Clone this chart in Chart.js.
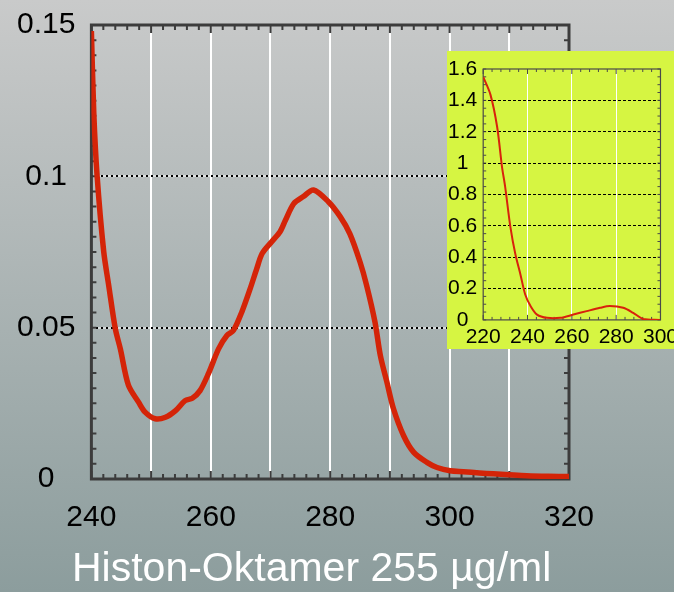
<!DOCTYPE html>
<html>
<head>
<meta charset="utf-8">
<script src="https://cdn.jsdelivr.net/npm/chart.js@4"></script>
<style>
  html, body { margin: 0; padding: 0; }
  body {
    width: 674px; height: 592px; position: relative; overflow: hidden;
    background: linear-gradient(#c9caca, #8c9d9d);
    font-family: 'Liberation Sans', Arial, sans-serif;
  }
  #main { position: absolute; left: 0; top: 0; }
  #insetBox {
    position: absolute; left: 447px; top: 51px; width: 227px; height: 298px;
    background: #d6f542; overflow: hidden;
  }
  #inset { position: absolute; left: -6px; top: 0; }
  #caption {
    position: absolute; left: 72px; top: 544px;
    color: #fff; font-size: 41px; white-space: nowrap;
  }
</style>
</head>
<body>
<canvas id="main" width="674" height="592"></canvas>
<div id="insetBox"><canvas id="inset" width="243" height="304"></canvas></div>
<div id="caption">Histon-Oktamer 255 µg/ml</div>
<script>
// main spectrum (240-320 nm)
const wavelength = [240, 240.4, 240.95, 242.06, 242.9, 244.0, 244.85, 246.2, 247.9, 249.0,
    250.7, 252.4, 254.1, 255.7, 256.9, 258.2, 259.6, 261.3, 262.7, 263.8,
    265.2, 266.6, 267.7, 268.6, 270.2, 271.6, 272.5, 273.9, 275.5, 277.2,
    279.7, 281.7, 283.3, 285.0, 286.1, 287.5, 288.4, 289.5, 290.6, 292.3,
    294.0, 296.2, 297.9, 300.1, 302.3, 305, 307.3, 310, 312.9, 316.5, 320];
const absorbance = [0.148, 0.121, 0.1004, 0.0752, 0.064, 0.0497, 0.043, 0.031, 0.0254, 0.0221,
    0.0199, 0.0204, 0.0226, 0.0259, 0.0267, 0.0292, 0.0348, 0.043, 0.0474, 0.0491,
    0.0552, 0.0629, 0.0695, 0.0745, 0.0784, 0.0817, 0.0855, 0.091, 0.0933, 0.0955,
    0.0916, 0.0866, 0.081, 0.0717, 0.064, 0.0519, 0.0408, 0.032, 0.0232, 0.0143,
    0.0088, 0.0055, 0.0038, 0.0027, 0.0024, 0.0020, 0.0017, 0.0014, 0.0011, 0.0009, 0.0008];

// inset spectrum (220-300 nm)
const insetWavelength = [220, 223.3, 226.3, 228.5, 229.9, 232.3, 234.5, 236.8, 239, 241.3,
    244.3, 248.8, 254.8, 260.7, 266.7, 272.7, 277.2, 283.2, 287.7, 292.2, 299.7];
const insetAbsorbance = [1.55, 1.435, 1.23, 0.975, 0.85, 0.59, 0.42, 0.29, 0.16, 0.09,
    0.034, 0.013, 0.013, 0.034, 0.056, 0.077, 0.088, 0.077, 0.045, 0.006, 0.0];

const mainXTicks = [240, 250, 260, 270, 280, 290, 300, 310, 320];
const mainXLabels = [240, 260, 280, 300, 320];
const mainYTicks = [0, 0.05, 0.1, 0.15];
const insetXTicks = [220, 240, 260, 280, 300];
const insetYTicks = [0, 0.2, 0.4, 0.6, 0.8, 1, 1.2, 1.4, 1.6];

const fmt = v => String(parseFloat(v.toFixed(3)));
const near = (a, b) => Math.abs(a - b) < 1e-6;
const inner = (v, s) => !near(v, s.min) && !near(v, s.max);

// frame round the plot area with small inward ticks on all four sides
const frameTicks = {
    id: 'frameTicks',
    beforeDraw(chart, args, o) {
        // pale line under the dotted y grid lines
        if (!o.underlay) return;
        const { ctx, chartArea: a, scales: { y } } = chart;
        ctx.save();
        ctx.strokeStyle = o.underlay;
        ctx.lineWidth = 2;
        ctx.beginPath();
        y.ticks.forEach(t => {
            if (!inner(t.value, y)) return;
            const py = Math.round(y.getPixelForValue(t.value));
            ctx.moveTo(a.left, py); ctx.lineTo(a.right, py);
        });
        ctx.stroke();
        ctx.restore();
    },
    beforeDatasetsDraw(chart, args, o) {
        const { ctx, chartArea: a, scales: { x, y } } = chart;
        ctx.save();
        ctx.strokeStyle = o.color;
        ctx.lineWidth = o.tickWidth;
        ctx.beginPath();
        const nx = Math.round((x.max - x.min) / o.xMinor);
        for (let i = 0; i <= nx; i++) {
            const v = x.min + i * o.xMinor;
            const px = x.getPixelForValue(v);
            const len = near((v - x.min) / o.xMajor, Math.round((v - x.min) / o.xMajor)) ? o.majorLen : o.minorLen;
            ctx.moveTo(px, a.bottom); ctx.lineTo(px, a.bottom - len);
            ctx.moveTo(px, a.top); ctx.lineTo(px, a.top + len);
        }
        const ny = Math.round((y.max - y.min) / o.yMinor);
        for (let i = 0; i <= ny; i++) {
            const py = y.getPixelForValue(y.min + i * o.yMinor);
            ctx.moveTo(a.left, py); ctx.lineTo(a.left + o.minorLen, py);
            ctx.moveTo(a.right, py); ctx.lineTo(a.right - o.minorLen, py);
        }
        ctx.stroke();
        ctx.lineWidth = o.width;
        ctx.strokeRect(a.left, a.top, a.right - a.left, a.bottom - a.top);
        ctx.restore();
    }
};

new Chart(document.getElementById('main'), {
    type: 'line',
    data: {
        datasets: [{
            data: wavelength.map((w, i) => ({ x: w, y: absorbance[i] })),
            borderColor: '#d42408',
            borderWidth: 5.5,
            pointRadius: 0,
            tension: 0.3,
            fill: false,
        }],
    },
    options: {
        responsive: false,
        animation: false,
        layout: { padding: { left: 1, right: 105, top: 25, bottom: 35 } },
        scales: {
            x: {
                type: 'linear', min: 240, max: 320,
                afterBuildTicks: s => { s.ticks = mainXTicks.map(v => ({ value: v })); },
                ticks: {
                    autoSkip: false, maxRotation: 0, padding: 21, color: '#000',
                    font: { size: 30, family: "'Liberation Sans', Arial, sans-serif" },
                    callback: v => mainXLabels.includes(v) ? String(v) : '',
                },
                grid: {
                    drawTicks: false, lineWidth: 2,
                    color: c => inner(c.tick.value, { min: 240, max: 320 }) ? '#ffffff' : 'rgba(0,0,0,0)',
                },
                border: { display: false },
            },
            y: {
                type: 'linear', min: 0, max: 0.15,
                afterBuildTicks: s => { s.ticks = mainYTicks.map(v => ({ value: v })); },
                ticks: {
                    padding: 16, crossAlign: 'center', color: '#000',
                    font: { size: 30, lineHeight: 0.6, family: "'Liberation Sans', Arial, sans-serif" },
                    callback: v => fmt(v),
                },
                grid: {
                    drawTicks: false, lineWidth: 2,
                    color: c => inner(c.tick.value, { min: 0, max: 0.15 }) ? '#000000' : 'rgba(0,0,0,0)',
                },
                border: { display: false, dash: [2, 3] },
            },
        },
        plugins: {
            legend: { display: false },
            tooltip: { enabled: false },
            frameTicks: {
                color: '#3c3c3c', width: 3, tickWidth: 2, xMinor: 2, xMajor: 10, yMinor: 0.005,
                minorLen: 5, majorLen: 8, underlay: 'rgba(255,255,255,0.55)',
            },
        },
    },
    plugins: [frameTicks],
});

new Chart(document.getElementById('inset'), {
    type: 'line',
    data: {
        datasets: [{
            data: insetWavelength.map((w, i) => ({ x: w, y: insetAbsorbance[i] })),
            borderColor: '#d8220c',
            borderWidth: 2,
            pointRadius: 0,
            tension: 0.3,
            fill: false,
        }],
    },
    options: {
        responsive: false,
        animation: false,
        layout: { padding: { left: 1, right: 20, top: 18, bottom: 0 } },
        scales: {
            x: {
                type: 'linear', min: 220, max: 300,
                afterBuildTicks: s => { s.ticks = insetXTicks.map(v => ({ value: v })); },
                ticks: {
                    autoSkip: false, maxRotation: 0, padding: 6, color: '#000',
                    font: { size: 21, lineHeight: 1.1, family: "'Liberation Sans', Arial, sans-serif" },
                    callback: v => String(v),
                },
                grid: {
                    drawTicks: false, lineWidth: 1,
                    color: c => inner(c.tick.value, { min: 220, max: 300 }) ? '#ffffff' : 'rgba(0,0,0,0)',
                },
                border: { display: false },
            },
            y: {
                type: 'linear', min: 0, max: 1.6,
                afterBuildTicks: s => { s.ticks = insetYTicks.map(v => ({ value: v })); },
                ticks: {
                    padding: 6, crossAlign: 'center', color: '#000',
                    font: { size: 21, lineHeight: 1, family: "'Liberation Sans', Arial, sans-serif" },
                    callback: v => fmt(v),
                },
                grid: {
                    drawTicks: false, lineWidth: 1,
                    color: c => inner(c.tick.value, { min: 0, max: 1.6 }) ? '#000000' : 'rgba(0,0,0,0)',
                },
                border: { display: false, dash: [3, 2] },
            },
        },
        plugins: {
            legend: { display: false },
            tooltip: { enabled: false },
            frameTicks: { color: '#4a4a4a', width: 1.2, tickWidth: 1, xMinor: 4, xMajor: 20, yMinor: 0.05, minorLen: 3, majorLen: 5 },
        },
    },
    plugins: [frameTicks],
});
</script>
</body>
</html>
